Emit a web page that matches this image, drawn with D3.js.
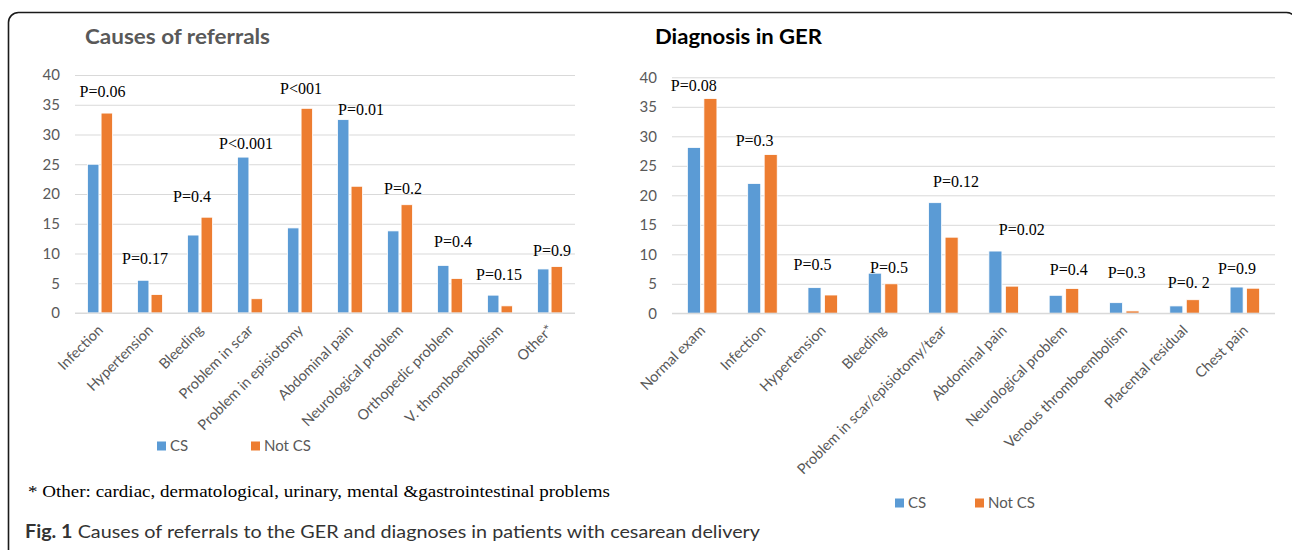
<!DOCTYPE html>
<html>
<head>
<meta charset="utf-8">
<script src="https://cdn.jsdelivr.net/npm/d3@7"></script>
<style>
  body { margin: 0; background: #fff; }
  svg { display: block; }
</style>
</head>
<body>
<div id="chart"></div>
<script>
// left panel: causes of referrals
const causes = ['Infection', 'Hypertension', 'Bleeding', 'Problem in scar', 'Problem in episiotomy',
  'Abdominal pain', 'Neurological problem', 'Orthopedic problem', 'V. thromboembolism', 'Other*'];
const causesCS = [25.0, 5.5, 13.1, 26.2, 14.3, 32.5, 13.8, 8.0, 3.0, 7.4];
const causesNotCS = [33.6, 3.1, 16.1, 2.4, 34.4, 21.3, 18.2, 5.8, 1.2, 7.8];
const causesP = ['P=0.06', 'P=0.17', 'P=0.4', 'P<0.001', 'P<001', 'P=0.01', 'P=0.2', 'P=0.4', 'P=0.15', 'P=0.9'];
const causesPLevel = [36.3, 8.2, 18.7, 27.6, 36.8, 33.3, 20.0, 11.1, 5.5, 9.6];
const causesPShift = [0.05, -0.1, -0.16, -0.08, 0.02, 0.22, 0.06, 0.06, -0.02, 0.04];

// right panel: diagnosis in GER
const diagnoses = ['Normal exam', 'Infection', 'Hypertension', 'Bleeding', 'Problem in scar/episiotomy/tear',
  'Abdominal pain', 'Neurological problem', 'Venous thromboembolism', 'Placental residual', 'Chest pain'];
const diagCS = [28.1, 22.0, 4.35, 6.8, 18.75, 10.55, 3.05, 1.8, 1.25, 4.45];
const diagNotCS = [36.4, 26.9, 3.1, 5.0, 12.9, 4.6, 4.2, 0.4, 2.3, 4.25];
const diagP = ['P=0.08', 'P=0.3', 'P=0.5', 'P=0.5', 'P=0.12', 'P=0.02', 'P=0.4', 'P=0.3', 'P=0. 2', 'P=0.9'];
const diagPLevel = [37.7, 28.4, 7.3, 6.8, 21.4, 13.3, 6.5, 6.0, 4.3, 6.7];
const diagPShift = [-0.14, -0.13, -0.17, 0.1, 0.21, 0.3, 0.08, 0.04, 0.07, -0.13];

const yTicks = [0, 5, 10, 15, 20, 25, 30, 35, 40];
const seriesNames = ['CS', 'Not CS'];
const colors = ['#5B9BD5', '#ED7D31'];

const W = 1292, H = 550;
const sansFont = 'Lato, "Open Sans", sans-serif';
const serifFont = '"Liberation Serif", "Times New Roman", serif';

const svg = d3.select('#chart').append('svg')
  .attr('width', W)
  .attr('height', H);

// outer frame
svg.append('rect')
  .attr('x', 8.5).attr('y', 12.5)
  .attr('width', 1288).attr('height', 580)
  .attr('rx', 10)
  .attr('fill', 'none')
  .attr('stroke', '#1a1a1a')
  .attr('stroke-width', 1.6);

function drawPanel(opt) {
  const g = svg.append('g');
  const { left, right, top, bottom } = opt.box;

  const x0 = d3.scaleBand()
    .domain(opt.cats)
    .range([left, right])
    .paddingInner(opt.groupPad)
    .paddingOuter(opt.groupPad / 2);

  const x1 = d3.scaleBand()
    .domain(seriesNames)
    .range([0, x0.bandwidth()])
    .paddingInner(opt.barGap);

  const y = d3.scaleLinear().domain([0, 40]).range([bottom, top]);

  // grid lines
  g.append('g')
    .attr('transform', `translate(${left},0)`)
    .call(d3.axisLeft(y).tickValues(yTicks).tickSize(-(right - left)).tickFormat(''))
    .call(a => a.select('.domain').remove())
    .call(a => a.selectAll('line').attr('stroke', '#D9D9D9').attr('stroke-width', 1));

  // y tick labels
  g.append('g')
    .attr('transform', `translate(${left},0)`)
    .call(d3.axisLeft(y).tickValues(yTicks).tickSize(0).tickPadding(15))
    .call(a => a.select('.domain').remove())
    .call(a => a.selectAll('text')
      .attr('fill', '#595959')
      .style('font-family', sansFont)
      .style('font-size', '15px'));

  // bars
  const rows = opt.cats.map((c, i) => ({ cat: c, vals: [opt.cs[i], opt.notcs[i]] }));
  const grp = g.selectAll('.grp')
    .data(rows)
    .enter().append('g')
    .attr('class', 'grp')
    .attr('transform', d => `translate(${x0(d.cat)},0)`);

  grp.selectAll('rect')
    .data(d => d.vals.map((v, k) => ({ s: seriesNames[k], v, k })))
    .enter().append('rect')
    .attr('x', d => x1(d.s))
    .attr('y', d => y(d.v))
    .attr('width', x1.bandwidth())
    .attr('height', d => y(0) - y(d.v))
    .attr('fill', d => colors[d.k])
    .attr('stroke', '#fff')
    .attr('stroke-width', 0.8);

  // x axis line + labels
  g.append('line')
    .attr('x1', left).attr('x2', right)
    .attr('y1', y(0)).attr('y2', y(0))
    .attr('stroke', '#D9D9D9').attr('stroke-width', 1.2);

  g.selectAll('.xlab')
    .data(opt.cats)
    .enter().append('text')
    .attr('class', 'xlab')
    .attr('transform', d => `translate(${x0(d) + x0.bandwidth() / 2 + 4},${y(0) + 18}) rotate(-45)`)
    .attr('text-anchor', 'end')
    .attr('fill', '#595959')
    .style('font-family', sansFont)
    .style('font-size', '14.5px')
    .text(d => d);

  // p-value annotations
  g.selectAll('.plab')
    .data(opt.cats)
    .enter().append('text')
    .attr('class', 'plab')
    .attr('x', (d, i) => x0(d) + x0.bandwidth() / 2 + opt.pShift[i] * x0.step())
    .attr('y', (d, i) => y(opt.pLevel[i]))
    .attr('text-anchor', 'middle')
    .attr('fill', '#000')
    .style('font-family', serifFont)
    .style('font-size', '16px')
    .text((d, i) => opt.p[i]);

  // title
  g.append('text')
    .attr('x', opt.title.x).attr('y', 44)
    .attr('fill', opt.title.color)
    .attr('textLength', opt.title.w)
    .attr('lengthAdjust', 'spacingAndGlyphs')
    .style('font-family', sansFont)
    .style('font-weight', 'bold')
    .style('font-size', '21px')
    .text(opt.title.text);

  // legend
  const lg = g.append('g').attr('transform', `translate(${opt.legend.x},${opt.legend.y})`);
  seriesNames.forEach((s, k) => {
    lg.append('rect')
      .attr('x', k * opt.legend.step).attr('y', -4.5)
      .attr('width', 9).attr('height', 9)
      .attr('fill', colors[k]);
    lg.append('text')
      .attr('x', k * opt.legend.step + 13).attr('y', 0)
      .attr('dy', '0.35em')
      .attr('fill', '#595959')
      .style('font-family', sansFont)
      .style('font-size', '15px')
      .text(s);
  });
}

drawPanel({
  cats: causes, cs: causesCS, notcs: causesNotCS,
  p: causesP, pLevel: causesPLevel, pShift: causesPShift,
  box: { left: 75, right: 575, top: 75, bottom: 313 },
  groupPad: 0.5, barGap: 0.16,
  title: { text: 'Causes of referrals', x: 85, w: 185, color: '#595959' },
  legend: { x: 157, y: 446, step: 94 }
});

drawPanel({
  cats: diagnoses, cs: diagCS, notcs: diagNotCS,
  p: diagP, pLevel: diagPLevel, pShift: diagPShift,
  box: { left: 672, right: 1275, top: 77.3, bottom: 313.3 },
  groupPad: 0.51, barGap: 0.21,
  title: { text: 'Diagnosis in GER', x: 655, w: 167, color: '#000' },
  legend: { x: 895, y: 503, step: 80 }
});

// footnote
svg.append('text')
  .attr('x', 28).attr('y', 497)
  .attr('textLength', 582)
  .attr('lengthAdjust', 'spacingAndGlyphs')
  .style('font-family', serifFont)
  .style('font-size', '16.5px')
  .attr('fill', '#000')
  .text('* Other: cardiac, dermatological, urinary, mental &gastrointestinal problems');

// figure caption
const cap = svg.append('text')
  .attr('x', 25).attr('y', 538)
  .attr('textLength', 735)
  .attr('lengthAdjust', 'spacingAndGlyphs')
  .attr('fill', '#333')
  .style('font-family', sansFont)
  .style('font-size', '18px');
cap.append('tspan').style('font-weight', 'bold').text('Fig. 1');
cap.append('tspan').text(' Causes of referrals to the GER and diagnoses in patients with cesarean delivery');
</script>
</body>
</html>
